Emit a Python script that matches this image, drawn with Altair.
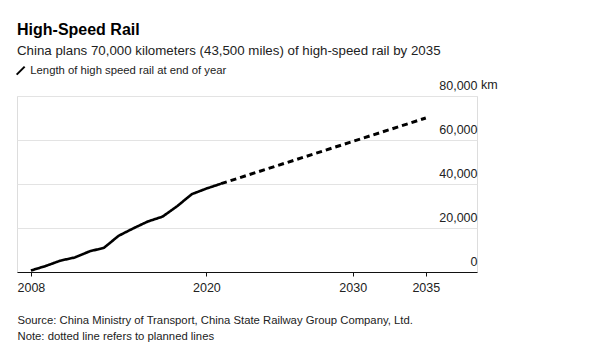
import altair as alt
import pandas as pd

years_actual = [2008, 2009, 2010, 2011, 2012, 2013, 2014, 2015, 2016, 2017, 2018, 2019, 2020, 2021]
km_actual = [672, 2699, 5133, 6601, 9356, 11028, 16456, 19838, 22980, 25164, 29904, 35388, 37929, 40139]
years_plan = [2021, 2035]
km_plan = [40139, 70000]
x_ticks = [2008, 2020, 2030, 2035]
y_ticks = [0, 20000, 40000, 60000, 80000]
series_name = "Length of high speed rail at end of year"

df = pd.DataFrame(
    {"year": years_actual + years_plan,
     "km": km_actual + km_plan,
     "kind": ["actual"] * len(years_actual) + ["planned"] * len(years_plan),
     "series": [series_name] * (len(years_actual) + len(years_plan))}
)

FONT = "Liberation Sans"
xscale = alt.Scale(domain=[2007.05, 2038.5], nice=False, zero=False)
yscale = alt.Scale(domain=[0, 80000], nice=False)

base = alt.Chart(df)

lines = base.mark_line(strokeCap="butt", strokeJoin="round").encode(
    x=alt.X("year:Q", scale=xscale,
            axis=alt.Axis(values=x_ticks, format="d", grid=False, domainColor="#111",
                          domainWidth=1, tickColor="#111", tickSize=4, labelPadding=5,
                          labelFontSize=12.5, labelColor="#222", labelFont=FONT,
                          title=["Source: China Ministry of Transport, China State Railway Group Company, Ltd.",
                                 "Note: dotted line refers to planned lines"],
                          titleFont=FONT, titleFontSize=11.3, titleFontWeight="normal",
                          titleColor="#222", titleAnchor="start", titleAlign="left",
                          titleBaseline="alphabetic", titleX=0, titleY=51, titleLineHeight=16)),
    y=alt.Y("km:Q", scale=yscale,
            axis=alt.Axis(values=y_ticks, orient="right", format=",d", grid=True,
                          gridColor="#e3e3e3", gridWidth=1, domain=False, ticks=False,
                          labelPadding=0, labelAlign="right", labelBaseline="alphabetic",
                          labelOffset=-7, labelFontSize=12.5, labelColor="#222",
                          labelFont=FONT, title=None)),
    detail="kind:N",
    color=alt.Color("series:N", scale=alt.Scale(range=["#000000"]),
                    legend=alt.Legend(title=None, orient="none", legendX=-2, legendY=-31,
                                      symbolType="M-1,1L1,-1", symbolStrokeWidth=2,
                                      symbolSize=64, symbolStrokeColor="#000",
                                      labelFont=FONT, labelFontSize=11.3, labelColor="#222",
                                      labelOffset=4, labelLimit=400)),
    strokeDash=alt.StrokeDash("kind:N", scale=alt.Scale(domain=["actual", "planned"],
                                                        range=[[1, 0], [6, 4]]), legend=None),
    strokeWidth=alt.StrokeWidth("kind:N", scale=alt.Scale(domain=["actual", "planned"],
                                                          range=[2.6, 3]), legend=None),
)

km_df = pd.DataFrame({"year": [2038.5], "km": [80000], "t": ["km"]})
km_text = alt.Chart(km_df).mark_text(align="left", baseline="alphabetic", dx=4, dy=-7,
                                     font=FONT, fontSize=12.5, color="#222").encode(
    x=alt.X("year:Q", scale=xscale), y=alt.Y("km:Q", scale=yscale), text="t:N")

chart = alt.layer(lines, km_text).properties(
    width=460, height=176,
    title=alt.Title("High-Speed Rail",
                    subtitle="China plans 70,000 kilometers (43,500 miles) of high-speed rail by 2035",
                    anchor="start", font=FONT, fontSize=16, fontWeight="bold", color="#000",
                    subtitleFont=FONT, subtitleFontSize=13.3, subtitleColor="#222",
                    subtitlePadding=6, offset=8, frame="group"),
    autosize=alt.AutoSizeParams(type="none"),
    padding={"left": 9, "top": 88, "right": 100, "bottom": 75},
).configure_view(stroke=None).configure(background="white")

chart.save("out.html", embed_options={"renderer": "svg", "actions": False})
